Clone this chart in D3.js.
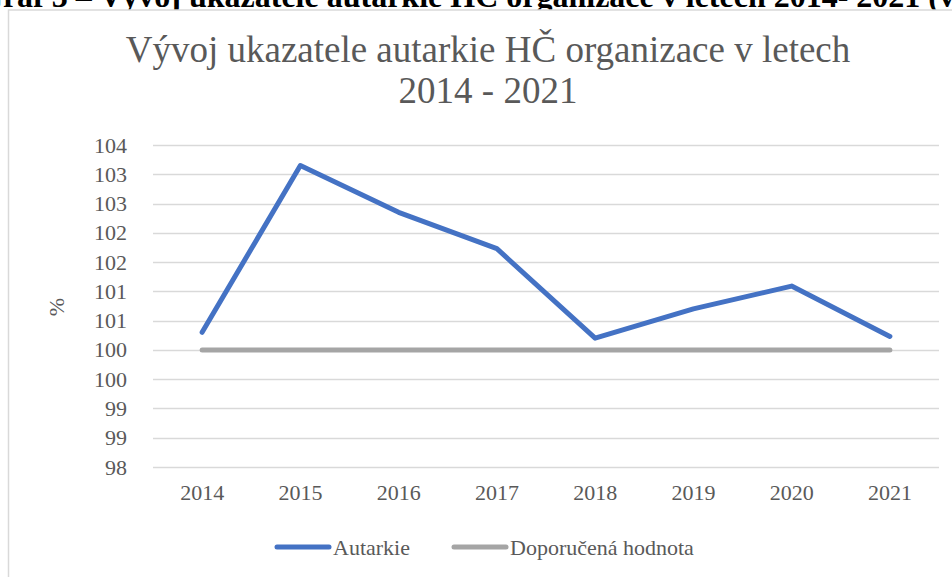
<!DOCTYPE html>
<html>
<head>
<meta charset="utf-8">
<script src="https://cdn.jsdelivr.net/npm/d3@7"></script>
<style>
  body { margin: 0; background: #fff; }
  svg { display: block; }
  text { font-family: "Liberation Serif", "Times New Roman", serif; }
</style>
</head>
<body>
<script>
var years = ["2014", "2015", "2016", "2017", "2018", "2019", "2020", "2021"];
var autarkie = [100.30, 103.15, 102.35, 101.73, 100.20, 100.70, 101.09, 100.23];
var doporucena = [100, 100, 100, 100, 100, 100, 100, 100];
var yTicks = [98, 98.5, 99, 99.5, 100, 100.5, 101, 101.5, 102, 102.5, 103, 103.5];

var W = 952, H = 577;
var margin = {top: 145, right: 14, bottom: 110, left: 153},
    w = 939 - margin.left,
    h = 467 - margin.top;

var svg = d3.select("body")
  .append("svg")
  .attr("width", W)
  .attr("height", H);

// heading of the document above the chart, mostly cut off
svg.append("text")
  .attr("x", -22)
  .attr("y", 7)
  .attr("font-size", 32)
  .attr("font-weight", "bold")
  .attr("fill", "#000")
  .text("Graf 3 – Vývoj ukazatele autarkie HČ organizace v letech 2014- 2021 (vlastní zpracování)");

// chart frame
svg.append("rect")
  .attr("x", 8.5)
  .attr("y", 10)
  .attr("width", 960)
  .attr("height", 600)
  .attr("fill", "#fff")
  .attr("stroke", "#d9d9d9")
  .attr("stroke-width", 1.5);

// title
var title = svg.append("text")
  .attr("text-anchor", "middle")
  .attr("font-size", 37)
  .attr("fill", "#595959");
title.append("tspan").attr("x", 488).attr("y", 62).text("Vývoj ukazatele autarkie HČ organizace v letech");
title.append("tspan").attr("x", 488).attr("y", 103).text("2014 - 2021");

var g = svg.append("g")
  .attr("transform", "translate(" + margin.left + "," + margin.top + ")");

var x = d3.scaleBand()
  .domain(years)
  .range([0, w]);

var y = d3.scaleLinear()
  .domain([98, 103.5])
  .range([h, 0]);

// gridlines
g.append("g")
  .selectAll("line")
  .data(yTicks)
  .join("line")
  .attr("x1", 0)
  .attr("x2", w)
  .attr("y1", function(d) { return Math.round(y(d)) + 0.5; })
  .attr("y2", function(d) { return Math.round(y(d)) + 0.5; })
  .attr("stroke", "#d9d9d9")
  .attr("stroke-width", 1.5);

// y axis labels (0.5 steps, rounded like the original)
var yAxis = d3.axisLeft(y)
  .tickValues(yTicks)
  .tickSize(0)
  .tickPadding(26)
  .tickFormat(function(d) { return Math.round(d); });

g.append("g")
  .attr("class", "yAxis")
  .call(yAxis)
  .call(function(s) { s.select(".domain").remove(); })
  .selectAll("text")
  .attr("font-family", "Liberation Serif, serif")
  .attr("font-size", 22)
  .attr("fill", "#595959");

// x axis labels
var xAxis = d3.axisBottom(x)
  .tickSize(0)
  .tickPadding(17);

g.append("g")
  .attr("class", "xAxis")
  .attr("transform", "translate(0," + h + ")")
  .call(xAxis)
  .call(function(s) { s.select(".domain").remove(); })
  .selectAll("text")
  .attr("font-family", "Liberation Serif, serif")
  .attr("font-size", 22)
  .attr("fill", "#595959");

// y axis title
svg.append("text")
  .attr("transform", "translate(64,307) rotate(-90)")
  .attr("text-anchor", "middle")
  .attr("font-size", 22)
  .attr("fill", "#595959")
  .text("%");

var line = d3.line()
  .x(function(d, i) { return x(years[i]) + x.bandwidth() / 2; })
  .y(function(d) { return y(d); });

g.append("path")
  .datum(doporucena)
  .attr("d", line)
  .attr("fill", "none")
  .attr("stroke", "#a5a5a5")
  .attr("stroke-width", 5)
  .attr("stroke-linecap", "round");

g.append("path")
  .datum(autarkie)
  .attr("d", line)
  .attr("fill", "none")
  .attr("stroke", "#4472c4")
  .attr("stroke-width", 5)
  .attr("stroke-linecap", "round")
  .attr("stroke-linejoin", "round");

// legend
var legend = [
  {name: "Autarkie", color: "#4472c4", x: 277},
  {name: "Doporučená hodnota", color: "#a5a5a5", x: 454}
];
var lg = svg.append("g").selectAll("g")
  .data(legend)
  .join("g")
  .attr("transform", function(d) { return "translate(" + d.x + ",547)"; });
lg.append("line")
  .attr("x1", 0).attr("x2", 52)
  .attr("stroke", function(d) { return d.color; })
  .attr("stroke-width", 5)
  .attr("stroke-linecap", "round");
lg.append("text")
  .attr("x", 56)
  .attr("y", 8)
  .attr("font-size", 22)
  .attr("fill", "#595959")
  .text(function(d) { return d.name; });
</script>
</body>
</html>
